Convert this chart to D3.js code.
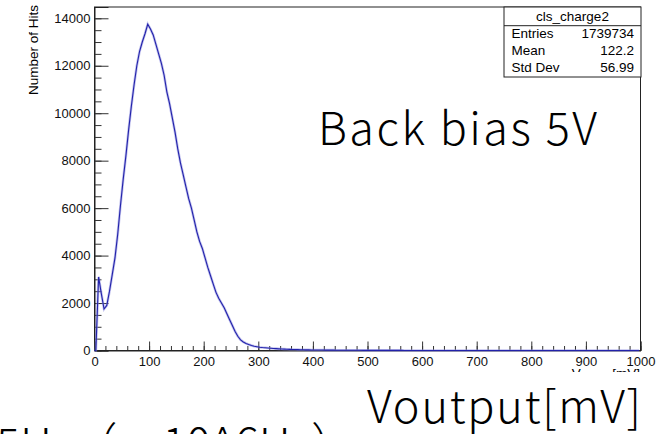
<!DOCTYPE html>
<html>
<head>
<meta charset="utf-8">
<script src="https://cdn.jsdelivr.net/npm/d3@7"></script>
<style>
  body { margin: 0; background: #fff; }
  svg { display: block; }
  text { font-family: "Liberation Sans", Arial, sans-serif; }
  .jp { font-family: "Noto Sans CJK JP", sans-serif; font-weight: 300; }
</style>
</head>
<body>
<svg id="chart" width="672" height="434"></svg>
<script>
// cls_charge2 histogram, 5 mV bins from 0 to 1000 mV
const binWidth = 5;
const counts = [
  0, 3100, 2400, 1750, 1900, 2500, 3200, 3900, 4900, 6100,
  7200, 8200, 9300, 10300, 11200, 12000, 12600, 13000, 13350, 13750,
  13550, 13300, 12900, 12500, 12100, 11600, 10900, 10400, 9800, 9200,
  8500, 7900, 7400, 6900, 6400, 6000, 5500, 5000, 4600, 4300,
  3900, 3500, 3150, 2800, 2450, 2200, 2000, 1800, 1550, 1300,
  1050, 800, 600, 450, 360, 300, 250, 210, 180, 160,
  140, 125, 115, 105, 95, 85, 78, 70, 64, 58,
  52, 48, 44, 40, 36, 33, 30, 28, 26, 24,
  22, 20, 19, 18, 17, 16, 15, 14, 13, 12,
  12, 11, 10, 10, 9, 9, 8, 8, 7, 7,
  7, 6, 6, 6, 5, 5, 5, 5, 4, 4,
  4, 4, 4, 3, 3, 3, 3, 3, 3, 3,
  2, 2, 2, 3, 2, 2, 2, 2, 2, 2,
  2, 2, 1, 2, 2, 1, 2, 1, 1, 2,
  1, 1, 1, 1, 2, 1, 1, 1, 1, 1,
  1, 1, 1, 1, 1, 1, 0, 1, 1, 1,
  1, 0, 1, 1, 0, 1, 1, 0, 1, 0,
  1, 0, 0, 1, 0, 1, 0, 0, 1, 0,
  0, 1, 0, 0, 0, 1, 0, 0, 0, 1,
  0, 0, 0, 1, 0, 0, 0, 0, 1, 0
];
const histName = "cls_charge2";
const statLabels = ["Entries", "Mean", "Std Dev"];
const statValues = ["1739734", "122.2", "56.99"];
const xTitle = "V";
const xTitleSub = "output";
const yTitle = "Number of Hits";
const noteBias = "Back bias 5V";
const noteAxis = "Voutput[mV]";
const noteRate = "5Hz（～10^6Hz）";

const svg = d3.select("#chart");

const x = d3.scaleLinear().domain([0, 1000]).range([94.5, 640.5]);
const y = d3.scaleLinear().domain([0, 14476]).range([350.5, 7]);

// axes (ROOT style: ticks pointing into the frame)
svg.append("g").attr("transform", `translate(0,${y(0)})`)
  .call(d3.axisBottom(x).tickValues(d3.range(0, 1001, 100)).tickSize(-9).tickPadding(6).tickFormat(d3.format("d")));
svg.append("g").attr("transform", `translate(0,${y(0)})`)
  .call(d3.axisBottom(x).tickValues(d3.range(0, 1001, 20)).tickSize(-4.5).tickFormat(""))
  .call(g => g.select(".domain").remove());

svg.append("g").attr("transform", `translate(${x(0)},0)`)
  .call(d3.axisLeft(y).tickValues(d3.range(0, 14001, 2000)).tickSize(-14).tickPadding(4).tickFormat(d3.format("d")));
svg.append("g").attr("transform", `translate(${x(0)},0)`)
  .call(d3.axisLeft(y).tickValues(d3.range(0, 14001, 500)).tickSize(-7).tickFormat(""))
  .call(g => g.select(".domain").remove());

svg.selectAll(".tick text").attr("font-size", 13).attr("fill", "#111");
svg.selectAll(".tick line").attr("stroke", "#333");
svg.selectAll(".domain").attr("stroke", "#222");

// frame
svg.append("rect")
  .attr("x", x(0)).attr("y", y.range()[1])
  .attr("width", x(1000) - x(0)).attr("height", y(0) - y.range()[1])
  .attr("fill", "none").attr("stroke", "#222").attr("stroke-width", 1);

// histogram, drawn through bin centres
const pts = counts.map((c, i) => [(i + 0.5) * binWidth, c]);
pts.unshift([0, 0]);
const line = d3.line().x(d => x(d[0])).y(d => y(d[1]));

svg.append("path").datum(pts).attr("d", line)
  .attr("fill", "none").attr("stroke", "#9090e0").attr("stroke-width", 2.6).attr("opacity", 0.55);
svg.append("path").datum(pts).attr("d", line)
  .attr("fill", "none").attr("stroke", "#2222aa").attr("stroke-width", 1.1);

// stats box
const sb = { x: 504, y: 7, w: 137, h: 70 };
const stats = svg.append("g");
stats.append("rect").attr("x", sb.x).attr("y", sb.y).attr("width", sb.w).attr("height", sb.h)
  .attr("fill", "#fff").attr("stroke", "#222");
stats.append("line").attr("x1", sb.x).attr("x2", sb.x + sb.w).attr("y1", 25.7).attr("y2", 25.7).attr("stroke", "#222");
stats.append("text").attr("x", sb.x + sb.w / 2).attr("y", 21).attr("text-anchor", "middle")
  .attr("font-size", 13.5).text(histName);
statLabels.forEach((s, i) => {
  stats.append("text").attr("x", 511.5).attr("y", 38 + i * 17).attr("font-size", 13.5).text(s);
  stats.append("text").attr("x", 634).attr("y", 38 + i * 17).attr("font-size", 13.5)
    .attr("text-anchor", "end").text(statValues[i]);
});

// axis titles
svg.append("text").attr("transform", "translate(38,5) rotate(-90)")
  .attr("text-anchor", "end").attr("font-size", 13.5).text(yTitle);

svg.append("clipPath").attr("id", "xtclip")
  .append("rect").attr("x", 500).attr("y", 360).attr("width", 172).attr("height", 12);
const xt = svg.append("text").attr("clip-path", "url(#xtclip)")
  .attr("x", 640).attr("y", 378).attr("text-anchor", "end").attr("font-size", 13.5);
xt.append("tspan").text(xTitle);
xt.append("tspan").attr("font-size", 10).attr("dy", 4).text(xTitleSub);
xt.append("tspan").attr("dy", -4).text(" [mV]");

// pasted overlay annotations
svg.append("text").attr("class", "jp").attr("x", 318).attr("y", 145).attr("font-size", 45)
  .attr("textLength", 279).attr("lengthAdjust", "spacing").text(noteBias);
svg.append("text").attr("class", "jp").attr("x", 367).attr("y", 423).attr("font-size", 45)
  .attr("textLength", 274).attr("lengthAdjust", "spacing").text(noteAxis);
svg.append("text").attr("class", "jp").attr("x", -4).attr("y", 461).attr("font-size", 45).text(noteRate);
</script>
</body>
</html>
